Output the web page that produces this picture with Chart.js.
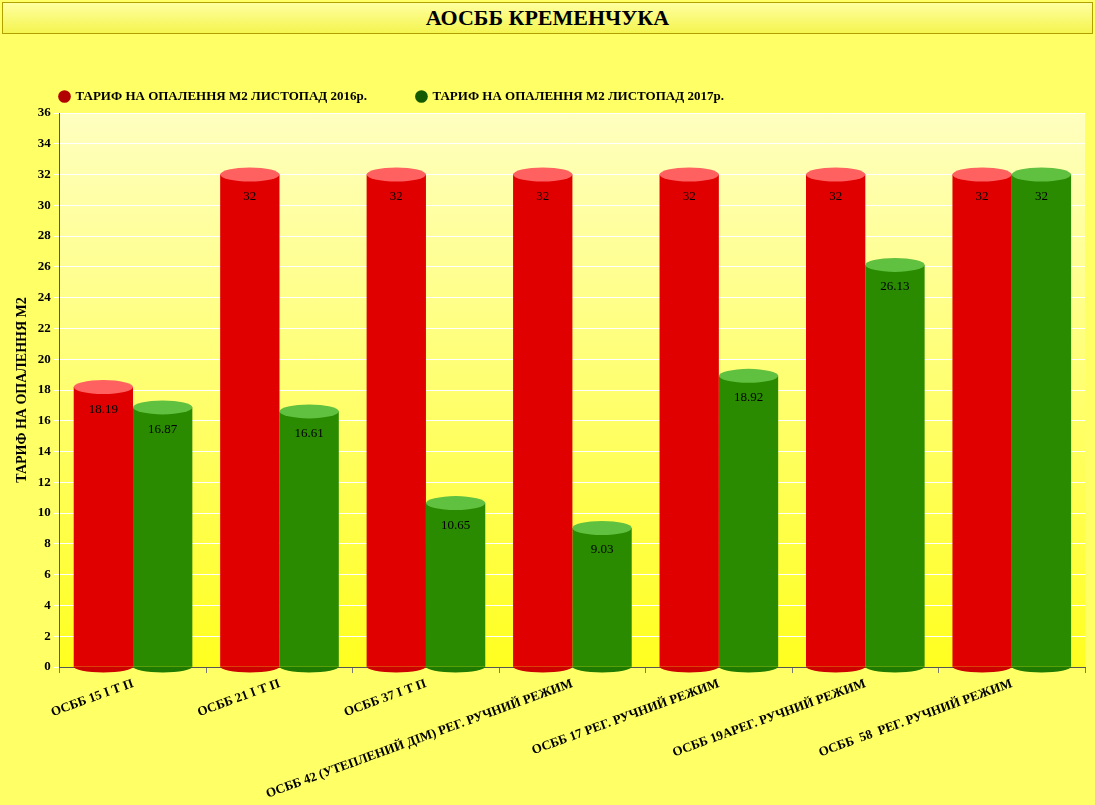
<!DOCTYPE html>
<html>
<head>
<meta charset="utf-8">
<script src="https://cdn.jsdelivr.net/npm/chart.js@4"></script>
<style>
  body { margin: 0; width: 1095px; height: 805px; background: #ffff66; font-family: 'Liberation Serif', serif; overflow: hidden; }
  #title { position: absolute; left: 2px; top: 2px; width: 1089px; height: 30px; background: linear-gradient(#ffffa0, #f4f450); border: 1px solid #b0a000; text-align: center; font-weight: bold; font-size: 22px; line-height: 30px; color: #000; }
  #wrap { position: absolute; left: 0; top: 40px; width: 1095px; height: 765px; }
</style>
</head>
<body>
<div id="title">АОСББ КРЕМЕНЧУКА</div>
<div id="wrap"><canvas id="chart" width="1095" height="765"></canvas></div>
<script>
  // Chart data
  const categories = [
    'ОСББ 15 І Т П',
    'ОСББ 21 І Т П',
    'ОСББ 37 І Т П',
    'ОСББ 42 (УТЕПЛЕНИЙ ДІМ) РЕГ. РУЧНИЙ РЕЖИМ',
    'ОСББ 17 РЕГ. РУЧНИЙ РЕЖИМ',
    'ОСББ 19АРЕГ. РУЧНИЙ РЕЖИМ',
    'ОСББ  58  РЕГ. РУЧНИЙ РЕЖИМ'
  ];
  const tariff2016 = [18.19, 32, 32, 32, 32, 32, 32];
  const tariff2017 = [16.87, 16.61, 10.65, 9.03, 18.92, 26.13, 32];

  function cylinderFill(ctx, dark, mid, light) {
    const el = ctx.element;
    if (!el || el.width === undefined || !isFinite(el.x)) return mid;
    const c = ctx.chart.ctx;
    const g = c.createLinearGradient(el.x - el.width / 2, 0, el.x + el.width / 2, 0);
    g.addColorStop(0, dark);
    g.addColorStop(0.35, light);
    g.addColorStop(0.6, mid);
    g.addColorStop(1, dark);
    return g;
  }

  // Plot background and cylinder caps
  const decorPlugin = {
    id: 'decor',
    beforeDraw(chart) {
      const { ctx, chartArea: a } = chart;
      const g = ctx.createLinearGradient(0, a.top, 0, a.bottom);
      g.addColorStop(0, '#ffffc0');
      g.addColorStop(1, '#ffff20');
      ctx.save();
      ctx.fillStyle = g;
      ctx.fillRect(a.left, a.top, a.right - a.left, a.bottom - a.top);
      ctx.restore();
    },
    afterDatasetsDraw(chart) {
      const ctx = chart.ctx;
      const caps = [['#ff6060', '#cc0000'], ['#60c040', '#1e7a00']];
      chart.data.datasets.forEach((ds, i) => {
        chart.getDatasetMeta(i).data.forEach((bar, j) => {
          const w = bar.width / 2;
          ctx.save();
          ctx.fillStyle = caps[i][0];
          ctx.beginPath();
          ctx.ellipse(bar.x, bar.y, w, 7, 0, 0, Math.PI * 2);
          ctx.fill();
          ctx.fillStyle = caps[i][1];
          ctx.beginPath();
          ctx.ellipse(bar.x, bar.base, w, 6, 0, 0, Math.PI);
          ctx.fill();
          ctx.fillStyle = '#000';
          ctx.font = '13px "Liberation Serif"';
          ctx.textAlign = 'center';
          ctx.fillText(ds.data[j], bar.x, bar.y + 22);
          ctx.restore();
        });
      });
    }
  };

  new Chart(document.getElementById('chart'), {
    type: 'bar',
    data: {
      labels: categories,
      datasets: [
        {
          label: 'ТАРИФ НА ОПАЛЕННЯ М2 ЛИСТОПАД 2016р.',
          data: tariff2016,
          backgroundColor: ctx => cylinderFill(ctx, '#b00000', '#e00000', '#ff5050'),
          borderWidth: 0
        },
        {
          label: 'ТАРИФ НА ОПАЛЕННЯ М2 ЛИСТОПАД 2017р.',
          data: tariff2017,
          backgroundColor: ctx => cylinderFill(ctx, '#145a00', '#2a8a00', '#60c040'),
          borderWidth: 0
        }
      ]
    },
    options: {
      responsive: false,
      animation: false,
      devicePixelRatio: 1,
      layout: { padding: { left: 10, right: 10, top: 0, bottom: 0 } },
      datasets: { bar: { categoryPercentage: 0.81, barPercentage: 1 } },
      plugins: {
        legend: {
          position: 'top',
          align: 'start',
          labels: {
            usePointStyle: true,
            pointStyle: 'circle',
            boxWidth: 9,
            boxHeight: 9,
            padding: 50,
            color: '#000',
            font: { family: 'Liberation Serif', size: 13, weight: 'bold' }
          }
        },
        tooltip: { enabled: false }
      },
      scales: {
        x: {
          grid: { display: true, color: '#777', drawOnChartArea: false, tickLength: 6, offset: true },
          border: { color: '#555' },
          ticks: {
            color: '#000',
            maxRotation: 20,
            minRotation: 20,
            font: { family: 'Liberation Serif', size: 13, weight: 'bold' }
          }
        },
        y: {
          min: 0,
          max: 36,
          ticks: { stepSize: 2, color: '#000', font: { family: 'Liberation Serif', size: 13, weight: 'bold' } },
          grid: { color: '#ffffff', tickLength: 6 },
          border: { color: '#555' },
          title: {
            display: true,
            text: 'ТАРИФ НА ОПАЛЕННЯ М2',
            color: '#000',
            font: { family: 'Liberation Serif', size: 14, weight: 'bold' }
          }
        }
      }
    },
    plugins: [decorPlugin]
  });
</script>
</body>
</html>
